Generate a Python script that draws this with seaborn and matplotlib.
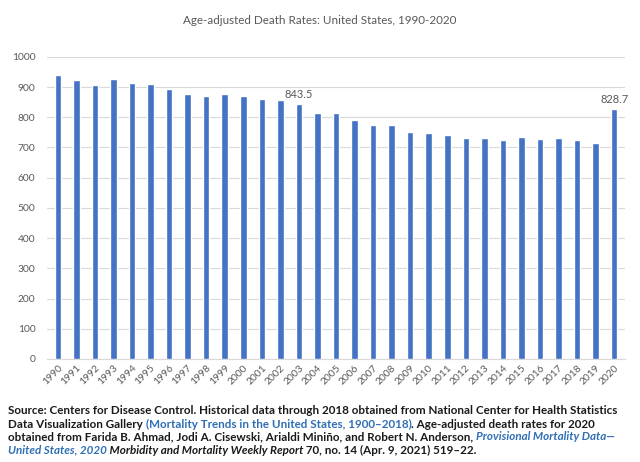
import numpy as np
import pandas as pd
import seaborn as sns
import matplotlib.pyplot as plt

years = [str(y) for y in range(1990, 2021)]
rates = [938.7, 922.3, 905.6, 926.1, 913.5, 909.8, 894.1, 878.1, 870.6, 875.6,
         869.0, 858.8, 855.9, 843.5, 813.7, 815.0, 791.8, 775.3, 774.9, 749.6,
         747.0, 741.3, 732.8, 731.9, 724.6, 733.1, 728.8, 731.9, 723.6, 715.2,
         828.7]
labelled = {"2003": "843.5", "2020": "828.7"}
yticks = list(range(0, 1001, 100))

df = pd.DataFrame({"year": years, "rate": rates})

sns.set_style("white")
plt.rcParams['font.family'] = ['Lato', 'DejaVu Sans']

fig = plt.figure(figsize=(6.4, 4.62), dpi=100)
ax = fig.add_axes([0.073, 0.223, 0.904, 0.654])

sns.barplot(data=df, x="year", y="rate", color="#4472C4", width=0.35,
            saturation=1, ax=ax, zorder=3)

gray = "#595959"
ax.set_ylim(0, 1000)
ax.set_yticks(yticks)
ax.set_xlim(-0.6, len(years) - 0.4)
ax.yaxis.grid(True, color="#D9D9D9", linewidth=0.8, zorder=0)
for s in ["top", "right", "left"]:
    ax.spines[s].set_visible(False)
ax.spines["bottom"].set_color("#D9D9D9")
ax.tick_params(axis="both", length=0, colors=gray, labelsize=7.4)
ax.tick_params(axis="y", pad=8)
ax.tick_params(axis="x", pad=3)
plt.setp(ax.get_xticklabels(), rotation=45, ha="right", rotation_mode="anchor")
ax.set_xlabel("")
ax.set_ylabel("")

for i, y in enumerate(years):
    if y in labelled:
        ax.text(i, rates[i] + 12, labelled[y], ha="center", va="bottom",
                fontsize=8, color=gray)

fig.text(0.5, 0.955, "Age-adjusted Death Rates: United States, 1990-2020",
         ha="center", va="center", fontsize=8.4, color=gray)

# footer with mixed colours
black = "#1a1a1a"
blue = "#2f6fb5"
lines = [
    [("Source: Centers for Disease Control. Historical data through 2018 obtained from National Center for Health Statistics", black, "normal")],
    [("Data Visualization Gallery ", black, "normal"),
     ("(Mortality Trends in the United States, 1900\u20132018)", blue, "normal"),
     (". Age-adjusted death rates for 2020", black, "normal")],
    [("obtained from Farida B. Ahmad, Jodi A. Cisewski, Arialdi Mini\u00f1o, and Robert N. Anderson, ", black, "normal"),
     ("Provisional Mortality Data\u2014", blue, "italic")],
    [("United States, 2020", blue, "italic"),
     (" Morbidity and Mortality Weekly Report", black, "italic"),
     (" 70, no. 14 (Apr. 9, 2021) 519\u201322.", black, "normal")],
]
fig.canvas.draw()
renderer = fig.canvas.get_renderer()
y0 = 411
for k, parts in enumerate(lines):
    x = 8
    ypx = y0 + k * 13
    for txt, col, style in parts:
        t = fig.text(x / 640, 1 - ypx / 462, txt, ha="left", va="center",
                     fontsize=8.4, fontweight="bold", color=col, style=style)
        bb = t.get_window_extent(renderer=renderer)
        x += bb.width

fig.savefig("out.png", dpi=100)
